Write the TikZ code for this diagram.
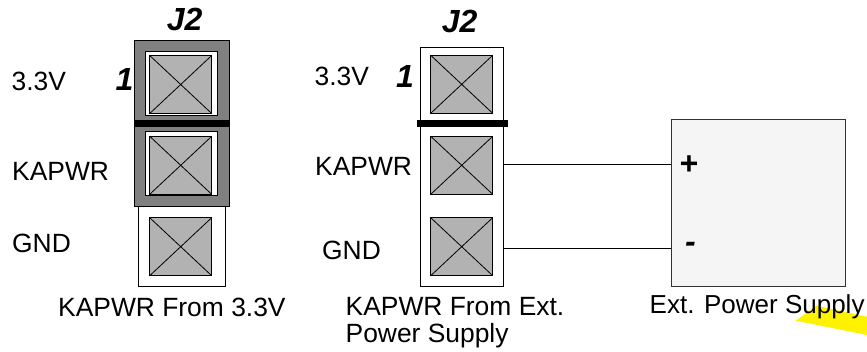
\documentclass[tikz,border=0pt]{standalone}
\usepackage{fontspec}
\setmainfont{Liberation Sans}
\definecolor{padgray}{HTML}{808080}
\definecolor{pingray}{HTML}{B2B2B2}
\definecolor{psugray}{HTML}{F5F5F5}
\tikzset{
	body/.style={draw, line width=1pt, inner sep=0pt, outer sep=0pt, anchor=north west},
	lbl/.style={inner sep=0pt, anchor=base west, font=\fontsize{26.4}{27}\selectfont},
	bigb/.style={inner sep=0pt, anchor=base west, font=\fontsize{32}{33}\selectfont\bfseries\itshape},
	wire/.style={line width=1pt}
}
\newcommand{\jpin}[3] % {name}{x}{y} grey pin with a cross, top left corner given
{
	\node [body, fill=pingray, minimum width=62pt, minimum height=58pt] (#1) at (#2,#3) {};
	\draw [line width=0.8pt] (#1.north west) -- (#1.south east) (#1.north east) -- (#1.south west);
}
\begin{document}
\begin{tikzpicture}[x=1pt,y=-1pt]
	\useasboundingbox (0,0) rectangle (867,351);

	% yellow mark under the last caption
	\fill [yellow] (795.7,320.7) -- (816.7,305.7) -- (867,316.7) -- (867,335) -- cycle;

	% left jumper
	\node [body, fill=white, minimum width=87.3pt, minimum height=80pt] (bodya) at (138,206.7) {};
	\node [body, fill=padgray, minimum width=94.7pt, minimum height=166.4pt] (capa) at (134.3,40.3) {};
	\node [body, draw=black, line width=0.8pt, fill=white, minimum width=71.6pt, minimum height=64pt] (pada) at (145.7,51.7) {};
	\node [body, draw=black, line width=0.8pt, fill=white, minimum width=71.6pt, minimum height=64.7pt] (padb) at (145.7,131) {};
	\jpin{pinaa}{149.7}{55.5}
	\jpin{pinab}{149.7}{136.3}
	\jpin{pinac}{149.7}{217.7}
	\fill (capa.west |- 0,120) rectangle (capa.east |- 0,127.3);

	% middle jumper
	\node [body, fill=white, minimum width=83.7pt, minimum height=238.3pt] (bodyb) at (420,47.7) {};
	\jpin{pinba}{430.7}{55.3}
	\jpin{pinbb}{430.7}{136.3}
	\jpin{pinbc}{430.7}{217.7}
	\fill (416.7,120) rectangle (507.7,127.3);

	% power supply
	\node [body, draw=black!80, fill=psugray, minimum width=174pt, minimum height=166.3pt] (psu) at (671,119.7) {};
	\coordinate (psuplus) at (671,164.7);
	\coordinate (psuminus) at (671,248);
	\draw [wire] (psuplus -| bodyb.east) -- (psuplus);
	\draw [wire] (psuminus -| bodyb.east) -- (psuminus);

	\node [bigb] (jla) at (166.7,30.7) {J2};
	\node [bigb] (onea) at (115.5,90) {1};
	\node [lbl] (vcca) at (11.5,90) {3.3V};
	\node [lbl] (kapa) at (12,180) {KAPWR};
	\node [lbl] (gnda) at (12,252) {GND};
	\node [lbl] (capta) at (58,316) {KAPWR From 3.3V};

	\node [bigb] (jlb) at (441.7,32.7) {J2};
	\node [bigb] (oneb) at (396,87) {1};
	\node [lbl] (vccb) at (314.5,85) {3.3V};
	\node [lbl] (kapb) at (315,175) {KAPWR};
	\node [lbl] (gndb) at (322,259.3) {GND};
	\node [lbl, align=left, anchor=north west] (captb) at (345.5,297.5) {KAPWR From Ext.\\Power Supply};

	\node [bigb, anchor=west] (plus) at (679,165) {+};
	\node [bigb, anchor=west] (minus) at (685,247) {-};
	\node [lbl, font=\fontsize{26}{27}\selectfont] (captc) at (649.5,313) {Ext. Power Supply};
\end{tikzpicture}
\end{document}
